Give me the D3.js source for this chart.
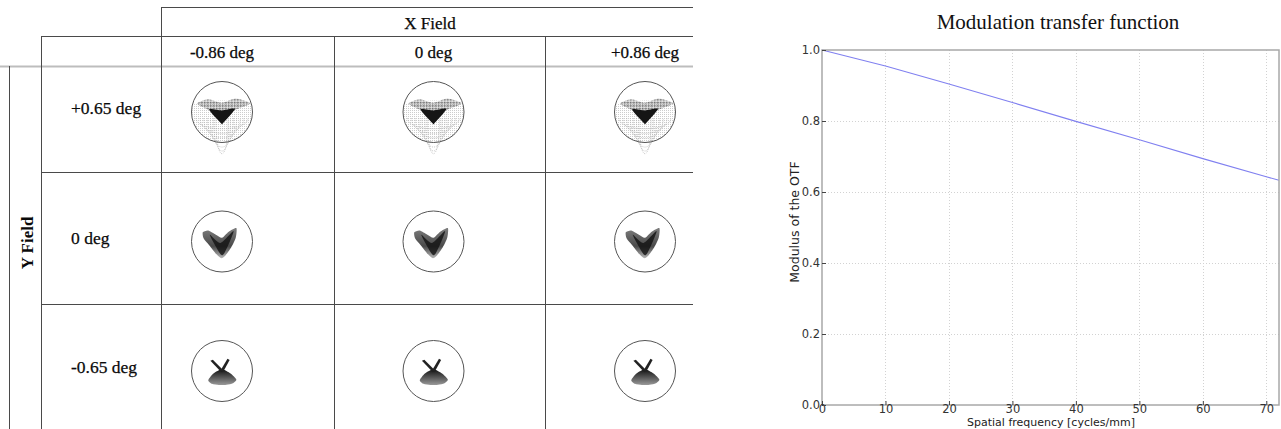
<!DOCTYPE html>
<html><head><meta charset="utf-8">
<script src="https://cdn.jsdelivr.net/npm/d3@7"></script>
<style>
html,body{margin:0;padding:0;background:#fff;}
svg{display:block;}
</style></head><body>
<svg id="c" width="1281" height="429"></svg>
<script>
// ---------------- data ----------------
const colLabels = ["-0.86 deg", "0 deg", "+0.86 deg"];
const rowLabels = ["+0.65 deg", "0 deg", "-0.65 deg"];
const xFieldTitle = "X Field";
const yFieldTitle = "Y Field";

const mtfFreq    = [0, 10, 20, 30, 40, 50, 60, 70, 72];
const mtfModulus = [1.0, 0.955, 0.904, 0.852, 0.799, 0.747, 0.694, 0.643, 0.633];
const xTickValues = [0, 10, 20, 30, 40, 50, 60, 70];
const yTickValues = [0.0, 0.2, 0.4, 0.6, 0.8, 1.0];
const mtfTitle = "Modulation transfer function";
const mtfXLabel = "Spatial frequency [cycles/mm]";
const mtfYLabel = "Modulus of the OTF";

// spot outlines, unit = radius of the reference circle, y downwards
const spotTopFan   = [[-0.95,-0.22],[-0.7,-0.32],[-0.3,-0.36],[0,-0.38],[0.3,-0.36],[0.7,-0.32],[0.95,-0.22],[0.97,0.1],[0.88,0.45],[0.65,0.78],[0.35,0.95],[0,1.0],[-0.35,0.95],[-0.65,0.78],[-0.88,0.45],[-0.97,0.1]];
const spotTopWings = [[-0.82,-0.28],[-0.45,-0.42],[0,-0.3],[0.45,-0.44],[0.92,-0.28],[0.5,-0.1],[0.15,0.08],[0,0.3],[-0.15,0.08],[-0.5,-0.1]];
const spotTopCore  = [[-0.42,-0.08],[0,-0.05],[0.42,-0.1],[0.04,0.36],[-0.04,0.36]];
const spotTopArcs  = [[0.85,0.55],[0.72,0.7],[0.6,0.85],[0.48,1.0],[0.38,1.15],[0.28,1.28],[0.2,1.37]];

const spotMidOuter = [[-0.63,-0.3],[-0.45,-0.36],[-0.2,-0.22],[0,-0.12],[0.22,-0.32],[0.47,-0.44],[0.45,-0.12],[0.3,0.2],[0.12,0.45],[-0.02,0.55],[-0.18,0.42],[-0.42,0.12],[-0.6,-0.1]];
const spotMidCore  = [[-0.4,-0.22],[-0.05,0.05],[0.38,-0.34],[0.08,0.38],[-0.06,0.4]];

const spotLowFan   = [[0,-0.06],[0.28,0.08],[0.47,0.28],[0.36,0.4],[0.15,0.45],[-0.1,0.46],[-0.33,0.42],[-0.45,0.3],[-0.28,0.08]];
const spotLowArmL  = [[-0.38,-0.34],[-0.3,-0.37],[0.05,-0.02],[-0.02,0.04]];
const spotLowArmR  = [[0.18,-0.4],[0.25,-0.36],[0.03,0.04],[-0.05,-0.02]];

// ---------------- layout ----------------
const svg = d3.select("#c");
const serif = "'Liberation Serif','Times New Roman',serif";
const sans = "'DejaVu Sans',sans-serif";
const defs = svg.append("defs");

const pat = defs.append("pattern").attr("id","dots").attr("width",2).attr("height",2)
  .attr("patternUnits","userSpaceOnUse");
pat.append("rect").attr("width",1).attr("height",1).attr("fill","#9a9a9a");
const pat2 = defs.append("pattern").attr("id","dots2").attr("width",1.5).attr("height",1.5)
  .attr("patternUnits","userSpaceOnUse");
pat2.append("rect").attr("width",1).attr("height",1).attr("fill","#444");

const gLow = defs.append("linearGradient").attr("id","gLow").attr("x1",0).attr("y1",0).attr("x2",0).attr("y2",1);
gLow.append("stop").attr("offset","0%").attr("stop-color","#111");
gLow.append("stop").attr("offset","100%").attr("stop-color","#999");
const gMid = defs.append("linearGradient").attr("id","gMid").attr("x1",0).attr("y1",0).attr("x2",0).attr("y2",1);
gMid.append("stop").attr("offset","0%").attr("stop-color","#666");
gMid.append("stop").attr("offset","60%").attr("stop-color","#2a2a2a");
gMid.append("stop").attr("offset","100%").attr("stop-color","#aaa");

// table grid
const colCenter = d3.scalePoint().domain(colLabels).range([222, 645]);
const rowCenter = d3.scalePoint().domain(rowLabels).range([112, 371]);
const colLines = [161, 334, 545];
const rowLines = [172, 304];
const tableRight = 693, H = 429;
const lineCol = "#4a4a4a";

const grid = svg.append("g").attr("fill","none").attr("stroke",lineCol).attr("stroke-width",1);
grid.append("line").attr("x1",161).attr("x2",tableRight).attr("y1",7.5).attr("y2",7.5);
grid.append("line").attr("x1",41).attr("x2",tableRight).attr("y1",36.5).attr("y2",36.5);
grid.append("line").attr("x1",0).attr("x2",tableRight).attr("y1",66.5).attr("y2",66.5)
  .attr("stroke","#bdbdbd").attr("stroke-width",2);
grid.selectAll("line.r").data(rowLines).join("line").attr("class","r")
  .attr("x1",41).attr("x2",tableRight).attr("y1",d=>d+0.5).attr("y2",d=>d+0.5);
grid.append("line").attr("x1",9.5).attr("x2",9.5).attr("y1",66).attr("y2",H);
grid.append("line").attr("x1",41.5).attr("x2",41.5).attr("y1",36).attr("y2",H);
grid.selectAll("line.c").data(colLines).join("line").attr("class","c")
  .attr("x1",d=>d+0.5).attr("x2",d=>d+0.5).attr("y1",(d,i)=>i===0?7:36).attr("y2",H);

// table texts
const txtCol = "#0a0a0a";
svg.append("text").attr("x",430).attr("y",23).attr("text-anchor","middle").attr("dominant-baseline","central")
  .attr("font-family",serif).attr("font-size",17).attr("fill",txtCol).attr("stroke",txtCol).attr("stroke-width",0.25).text(xFieldTitle);
svg.selectAll("text.col").data(colLabels).join("text").attr("class","col")
  .attr("x",d=>colCenter(d)).attr("y",52).attr("text-anchor","middle").attr("dominant-baseline","central")
  .attr("font-family",serif).attr("font-size",17).attr("fill",txtCol).attr("stroke",txtCol).attr("stroke-width",0.25).text(d=>d);
svg.selectAll("text.row").data(rowLabels).join("text").attr("class","row")
  .attr("x",71).attr("y",d=>rowCenter(d)-4).attr("dominant-baseline","central")
  .attr("font-family",serif).attr("font-size",17.5).attr("fill",txtCol).attr("stroke",txtCol).attr("stroke-width",0.25).text(d=>d);
svg.append("text").attr("transform","translate(27,243) rotate(-90)").attr("text-anchor","middle")
  .attr("dominant-baseline","central").attr("font-family",serif).attr("font-size",17)
  .attr("font-weight","bold").attr("fill",txtCol).text(yFieldTitle);

// spot diagrams
const R = 30.5;
function drawSpot(cx, cy, rowIdx) {
  const sx = d3.scaleLinear().domain([-1,1]).range([cx-R, cx+R]);
  const sy = d3.scaleLinear().domain([-1,1]).range([cy-R, cy+R]);
  const poly = d3.line().x(d=>sx(d[0])).y(d=>sy(d[1])).curve(d3.curveCardinalClosed.tension(0.3));
  const lin = d3.line().x(d=>sx(d[0])).y(d=>sy(d[1]));
  const g = svg.append("g");
  if (rowIdx === 0) {
    g.append("path").attr("d",poly(spotTopFan)).attr("fill","url(#dots)").attr("opacity",0.5);
    spotTopArcs.forEach(([w,d])=>{
      const t = 0.2, c = (8*d - 2*t)/6;
      const p = d3.path();
      p.moveTo(sx(-w), sy(t));
      p.bezierCurveTo(sx(-w), sy(c), sx(w), sy(c), sx(w), sy(t));
      g.append("path").attr("d",p.toString()).attr("fill","none").attr("stroke","#aaa")
        .attr("stroke-width",0.6).attr("stroke-dasharray","1,1");
    });
    g.append("path").attr("d",poly(spotTopWings)).attr("fill","url(#dots2)").attr("opacity",0.8);
    g.append("path").attr("d",poly(spotTopCore)).attr("fill","#151515");
  } else if (rowIdx === 1) {
    g.append("path").attr("d",poly(spotMidOuter)).attr("fill","url(#gMid)").attr("opacity",0.85);
    g.append("path").attr("d",poly(spotMidCore)).attr("fill","#111").attr("opacity",0.8);
  } else {
    g.append("path").attr("d",poly(spotLowFan)).attr("fill","url(#gLow)");
    g.append("path").attr("d",lin(spotLowArmL)+"Z").attr("fill","#222");
    g.append("path").attr("d",lin(spotLowArmR)+"Z").attr("fill","#222");
  }
  g.append("circle").attr("cx",cx).attr("cy",cy).attr("r",R).attr("fill","none")
    .attr("stroke","#555").attr("stroke-width",1);
}
rowLabels.forEach((r,ri)=>colLabels.forEach(c=>drawSpot(colCenter(c), rowCenter(r), ri)));

// ---------------- MTF chart ----------------
const x = d3.scaleLinear().domain([0,72]).range([822,1279]);
const y = d3.scaleLinear().domain([0,1]).range([405,50]);
const plot = svg.append("g");

// grid
plot.append("g").selectAll("line").data(xTickValues.slice(1)).join("line")
  .attr("x1",d=>Math.round(x(d))+0.5).attr("x2",d=>Math.round(x(d))+0.5).attr("y1",y(1)).attr("y2",y(0))
  .attr("stroke","#d2d2d2").attr("stroke-width",1).attr("stroke-dasharray","1,2");
plot.append("g").selectAll("line").data(yTickValues.slice(1,-1)).join("line")
  .attr("x1",x(0)).attr("x2",x(72)).attr("y1",d=>Math.round(y(d))+0.5).attr("y2",d=>Math.round(y(d))+0.5)
  .attr("stroke","#d2d2d2").attr("stroke-width",1).attr("stroke-dasharray","1,2");

// curve
plot.append("path").datum(mtfFreq.map((f,i)=>[f, mtfModulus[i]]))
  .attr("d", d3.line().x(d=>x(d[0])).y(d=>y(d[1])))
  .attr("fill","none").attr("stroke","#8080f0").attr("stroke-width",1.1);

// frame
plot.append("rect").attr("x",x(0)).attr("y",y(1)).attr("width",x(72)-x(0)).attr("height",y(0)-y(1))
  .attr("fill","none").attr("stroke","#a8a8a8").attr("stroke-width",1.5);

// axes
const xAxis = d3.axisBottom(x).tickValues(xTickValues).tickSize(-4).tickPadding(2).tickFormat(d3.format("d"));
const yAxis = d3.axisLeft(y).tickValues(yTickValues).tickSize(-4).tickPadding(2).tickFormat(d3.format(".1f"));
const gx = plot.append("g").attr("transform",`translate(0,${y(0)})`).call(xAxis);
const gy = plot.append("g").attr("transform",`translate(${x(0)},0)`).call(yAxis);
[gx, gy].forEach(g=>{
  g.select(".domain").remove();
  g.selectAll(".tick line").attr("stroke","#444");
  g.selectAll(".tick text").attr("font-family",sans).attr("font-size",11.5).attr("fill","#333");
});
gx.selectAll(".tick text").attr("dy","0.55em");

svg.append("text").attr("x",1058).attr("y",22).attr("text-anchor","middle").attr("dominant-baseline","central")
  .attr("font-family",serif).attr("font-size",21).attr("fill","#111").text(mtfTitle);
svg.append("text").attr("x",1051).attr("y",425.8).attr("text-anchor","middle")
  .attr("font-family",sans).attr("font-size",11).attr("fill","#222").text(mtfXLabel);
svg.append("text").attr("transform","translate(794,222) rotate(-90)").attr("text-anchor","middle")
  .attr("dominant-baseline","central").attr("font-family",sans).attr("font-size",12.5).attr("fill","#222").text(mtfYLabel);
</script>
</body></html>
